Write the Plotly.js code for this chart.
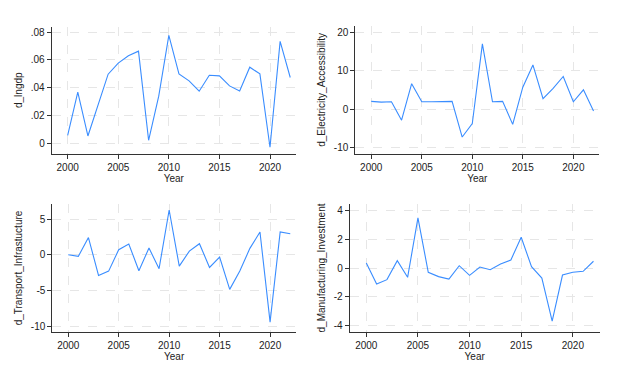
<!DOCTYPE html>
<html>
<head>
<meta charset="utf-8">
<script src="https://cdn.plot.ly/plotly-3.0.1.min.js"></script>
<style>html,body{margin:0;padding:0;background:#fff;}#chart{width:622px;height:372px;}</style>
</head>
<body>
<div id="chart"></div>
<script>
const years = [2000,2001,2002,2003,2004,2005,2006,2007,2008,2009,2010,2011,2012,2013,2014,2015,2016,2017,2018,2019,2020,2021,2022];
const d_lngdp = [0.006,0.037,0.0055,0.028,0.0498,0.0577,0.063,0.0663,0.0024,0.034,0.0776,0.050,0.045,0.0376,0.049,0.0486,0.0414,0.0378,0.0548,0.050,-0.0026,0.0733,0.0474];
const d_elec = [2.0,1.8,1.9,-2.9,6.6,1.9,1.9,1.9,2.0,-7.3,-3.8,17.0,1.9,2.0,-4.0,5.7,11.5,2.7,5.4,8.5,1.9,5.0,-0.5];
const d_transport = [0.0,-0.23,2.4,-2.9,-2.3,0.7,1.5,-2.24,0.93,-1.96,6.26,-1.6,0.5,1.54,-1.78,-0.33,-4.86,-2.29,0.89,3.18,-9.44,3.18,2.94];
const d_manuf = [0.35,-1.12,-0.81,0.51,-0.65,3.49,-0.3,-0.6,-0.77,0.16,-0.51,0.07,-0.12,0.28,0.56,2.14,0.09,-0.7,-3.7,-0.49,-0.3,-0.23,0.47];
const yTitles = ["d_lngdp","d_Electricity_Accessibility","d_Transport_Infrastucture","d_Manufacturing_Investment"];
const xTickVals = [2000,2005,2010,2015,2020];
const yTicks = [
  {vals:[0,0.02,0.04,0.06,0.08], text:["0",".02",".04",".06",".08"]},
  {vals:[-10,0,10,20], text:["-10","0","10","20"]},
  {vals:[-10,-5,0,5], text:["-10","-5","0","5"]},
  {vals:[-4,-2,0,2,4], text:["-4","-2","0","2","4"]}
];
const series = [d_lngdp, d_elec, d_transport, d_manuf];

const lineColor = "#3a8dff";
const font = {family:"Liberation Sans, Arial, sans-serif", size:10, color:"#222"};

const xDomains = [[0.0831,0.4759],[0.5712,0.9635],[0.0841,0.4759],[0.5622,0.9641]];
const yDomains = [[0.5868,0.9282],[0.5868,0.9301],[0.1083,0.4508],[0.1083,0.4508]];
const xRanges = [[1998.42,2022.57],[1998.42,2022.57],[1998.42,2022.57],[1998.39,2022.6]];
const yRanges = [[-0.0072,0.0838],[-11.65,21.65],[-10.79,7.06],[-4.44,4.44]];

const traces = [];
const layout = {
  width:622, height:372,
  margin:{l:0,r:0,t:0,b:0},
  paper_bgcolor:"#fff", plot_bgcolor:"#fff",
  showlegend:false,
  font:font
};
for (let i=0;i<4;i++){
  const s = i===0 ? "" : String(i+1);
  traces.push({x:years, y:series[i], type:"scatter", mode:"lines",
    line:{color:lineColor, width:1.1}, xaxis:"x"+s, yaxis:"y"+s, hoverinfo:"skip"});
  layout["xaxis"+s] = {
    domain:xDomains[i], range:xRanges[i], anchor:"y"+s,
    tickvals:xTickVals, ticktext:xTickVals.map(String),
    showline:true, linecolor:"#333", linewidth:1,
    ticks:"outside", ticklen:4, tickcolor:"#333", tickwidth:1,
    showgrid:true, gridcolor:"#e6e6e6", griddash:"dash", gridwidth:1,
    zeroline:false, tickfont:font,
    title:{text:"Year", font:font, standoff:2}
  };
  layout["yaxis"+s] = {
    domain:yDomains[i], range:yRanges[i], anchor:"x"+s,
    tickvals:yTicks[i].vals, ticktext:yTicks[i].text,
    showline:true, linecolor:"#333", linewidth:1,
    ticks:"outside", ticklen:4, tickcolor:"#333", tickwidth:1,
    showgrid:true, gridcolor:"#e6e6e6", griddash:"dash", gridwidth:1,
    zeroline:false, tickfont:font,
    title:{text:yTitles[i], font:font, standoff:6}
  };
}
Plotly.newPlot("chart", traces, layout, {staticPlot:true, displayModeBar:false});
</script>
</body>
</html>
